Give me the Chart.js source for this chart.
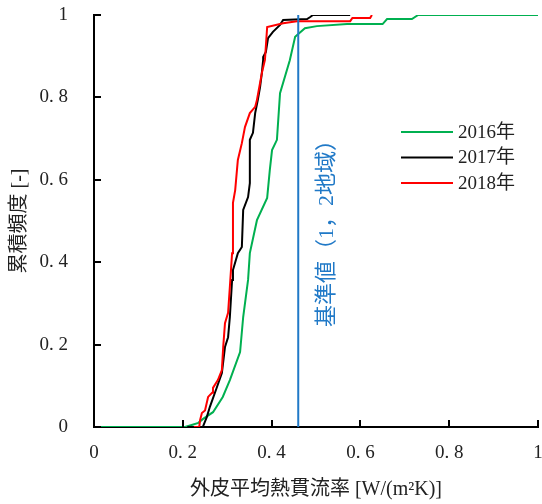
<!DOCTYPE html>
<html>
<head>
<meta charset="utf-8">
<script src="https://cdn.jsdelivr.net/npm/chart.js@4"></script>
<style>
  html, body { margin: 0; padding: 0; background: #fff; }
  #wrap { width: 542px; height: 504px; }
</style>
</head>
<body>
<div id="wrap"><canvas id="cdfChart" width="542" height="504"></canvas></div>
<script>
// series (x: W/(m2K), y: cumulative frequency)
const seriesLabels = ["2016年", "2017年", "2018年"];
const seriesColors = ["#00B050", "#000000", "#FF0000"];

const x2016 = [0, 0.205, 0.22, 0.235, 0.245, 0.268, 0.29, 0.306, 0.329, 0.336, 0.347, 0.351, 0.367, 0.39, 0.396, 0.401, 0.412, 0.419, 0.441, 0.453, 0.475, 0.502, 0.57, 0.65, 0.66, 0.716, 0.73, 1.0];
const y2016 = [0, 0, 0.005, 0.01, 0.019, 0.036, 0.073, 0.114, 0.182, 0.267, 0.357, 0.422, 0.502, 0.556, 0.624, 0.672, 0.697, 0.81, 0.89, 0.947, 0.968, 0.973, 0.978, 0.978, 0.99, 0.99, 1.0, 1.0];

const x2017 = [0.21, 0.245, 0.254, 0.261, 0.277, 0.288, 0.295, 0.302, 0.306, 0.311, 0.313, 0.324, 0.333, 0.336, 0.347, 0.351, 0.351, 0.358, 0.363, 0.369, 0.374, 0.378, 0.381, 0.381, 0.387, 0.392, 0.403, 0.419, 0.426, 0.48, 0.487, 0.493, 0.577];
const y2017 = [0, 0, 0.024, 0.049, 0.097, 0.131, 0.194, 0.218, 0.267, 0.357, 0.381, 0.422, 0.437, 0.527, 0.558, 0.592, 0.697, 0.714, 0.762, 0.794, 0.825, 0.859, 0.891, 0.898, 0.91, 0.944, 0.959, 0.976, 0.988, 0.99, 0.995, 1.0, 1.0];

const x2018 = [0.225, 0.237, 0.239, 0.243, 0.25, 0.257, 0.266, 0.268, 0.279, 0.288, 0.291, 0.295, 0.302, 0.306, 0.311, 0.313, 0.313, 0.318, 0.322, 0.324, 0.333, 0.34, 0.351, 0.363, 0.367, 0.374, 0.378, 0.385, 0.39, 0.426, 0.457, 0.577, 0.582, 0.615, 0.622, 0.626];
const y2018 = [0, 0, 0.017, 0.034, 0.04, 0.073, 0.083, 0.095, 0.114, 0.138, 0.194, 0.252, 0.277, 0.34, 0.422, 0.471, 0.544, 0.575, 0.624, 0.648, 0.689, 0.728, 0.762, 0.777, 0.794, 0.835, 0.859, 0.891, 0.971, 0.98, 0.985, 0.985, 0.993, 0.993, 0.993, 1.0];

// reference value line
const baseX = 0.46;
const baseLabel = "基準値（1，2地域）";

// axes
const xTickValues = [0, 0.2, 0.4, 0.6, 0.8, 1];
const xTickLabels = ["0", "0. 2", "0. 4", "0. 6", "0. 8", "1"];
const yTickValues = [0, 0.2, 0.4, 0.6, 0.8, 1];
const yTickLabels = ["0", "0. 2", "0. 4", "0. 6", "0. 8", "1"];
const xTitle = "外皮平均熱貫流率 [W/(m²K)]";
const yTitle = "累積頻度 [-]";

const FONT = "'Liberation Serif', 'Noto Sans CJK JP', serif";
const BLUE = "#2079C7";

function toPoints(xs, ys) {
  return xs.map((x, i) => ({ x: x, y: ys[i] }));
}

// tick marks pointing into the plot
const innerTicks = {
  id: "innerTicks",
  afterDraw(chart) {
    const ctx = chart.ctx;
    const xs = chart.scales.x, ys = chart.scales.y;
    const area = chart.chartArea;
    ctx.save();
    ctx.strokeStyle = "#000";
    ctx.lineWidth = 2;
    xTickValues.forEach((v) => {
      const px = Math.round(xs.getPixelForValue(v));
      ctx.beginPath();
      ctx.moveTo(px, area.bottom);
      ctx.lineTo(px, area.bottom - 7);
      ctx.stroke();
    });
    yTickValues.forEach((v) => {
      const py = Math.round(ys.getPixelForValue(v));
      ctx.beginPath();
      ctx.moveTo(area.left, py);
      ctx.lineTo(area.left + 7, py);
      ctx.stroke();
    });
    ctx.restore();
  },
};

// legend box inside the plot + rotated label of the reference line
const extras = {
  id: "extras",
  afterDatasetsDraw(chart) {
    const ctx = chart.ctx;
    ctx.save();
    const legendX = 401, legendY = 132, rowH = 25.5;
    seriesLabels.forEach((lab, i) => {
      const y = legendY + i * rowH;
      ctx.strokeStyle = seriesColors[i];
      ctx.lineWidth = 2;
      ctx.beginPath();
      ctx.moveTo(legendX, y);
      ctx.lineTo(legendX + 52, y);
      ctx.stroke();
      ctx.fillStyle = "#222";
      ctx.font = "19px " + FONT;
      ctx.textAlign = "left";
      ctx.textBaseline = "middle";
      ctx.fillText(lab, legendX + 57, y + 1);
    });

    const px = chart.scales.x.getPixelForValue(baseX);
    ctx.translate(px + 29, 228);
    ctx.rotate(-Math.PI / 2);
    ctx.fillStyle = BLUE;
    ctx.font = "22px " + FONT;
    ctx.textAlign = "center";
    ctx.textBaseline = "middle";
    ctx.fillText(baseLabel, 0, 0);
    ctx.restore();
  },
};

const datasets = [
  {
    label: "base",
    data: [{ x: baseX, y: 0 }, { x: baseX, y: 1 }],
    borderColor: BLUE,
    borderWidth: 2,
    order: 0,
  },
  {
    label: seriesLabels[2],
    data: toPoints(x2018, y2018),
    borderColor: seriesColors[2],
    borderWidth: 2,
    order: 1,
  },
  {
    label: seriesLabels[1],
    data: toPoints(x2017, y2017),
    borderColor: seriesColors[1],
    borderWidth: 2,
    order: 2,
  },
  {
    label: seriesLabels[0],
    data: toPoints(x2016, y2016),
    borderColor: seriesColors[0],
    borderWidth: 2,
    order: 3,
  },
];

new Chart(document.getElementById("cdfChart"), {
  type: "line",
  data: { datasets: datasets },
  options: {
    responsive: false,
    animation: false,
    devicePixelRatio: 1,
    elements: { point: { radius: 0 }, line: { tension: 0, fill: false } },
    layout: { padding: { top: 15, right: 4, left: 0, bottom: 0 } },
    plugins: { legend: { display: false }, tooltip: { enabled: false } },
    scales: {
      x: {
        type: "linear",
        min: 0,
        max: 1,
        afterBuildTicks: (s) => { s.ticks = xTickValues.map((v) => ({ value: v })); },
        afterFit: (s) => { s.height = 77; s.paddingLeft = 0; s.paddingRight = 0; },
        grid: { display: false },
        border: { display: true, color: "#000", width: 2 },
        ticks: {
          padding: 7,
          color: "#222",
          font: { family: FONT, size: 19 },
          maxRotation: 0,
          callback: (v) => xTickLabels[xTickValues.indexOf(v)],
        },
        title: {
          display: true,
          text: xTitle,
          color: "#222",
          font: { family: FONT, size: 20 },
          padding: { top: 0, bottom: 2 },
        },
      },
      y: {
        type: "linear",
        min: 0,
        max: 1,
        afterBuildTicks: (s) => { s.ticks = yTickValues.map((v) => ({ value: v })); },
        afterFit: (s) => { s.width = 94; s.paddingTop = 0; s.paddingBottom = 0; },
        grid: { display: false },
        border: { display: true, color: "#000", width: 2 },
        ticks: {
          padding: 18,
          color: "#222",
          font: { family: FONT, size: 19 },
          callback: (v) => yTickLabels[yTickValues.indexOf(v)],
        },
        title: {
          display: true,
          text: yTitle,
          color: "#222",
          font: { family: FONT, size: 20 },
          padding: { top: 8, bottom: 0 },
        },
      },
    },
  },
  plugins: [innerTicks, extras],
});
</script>
</body>
</html>
